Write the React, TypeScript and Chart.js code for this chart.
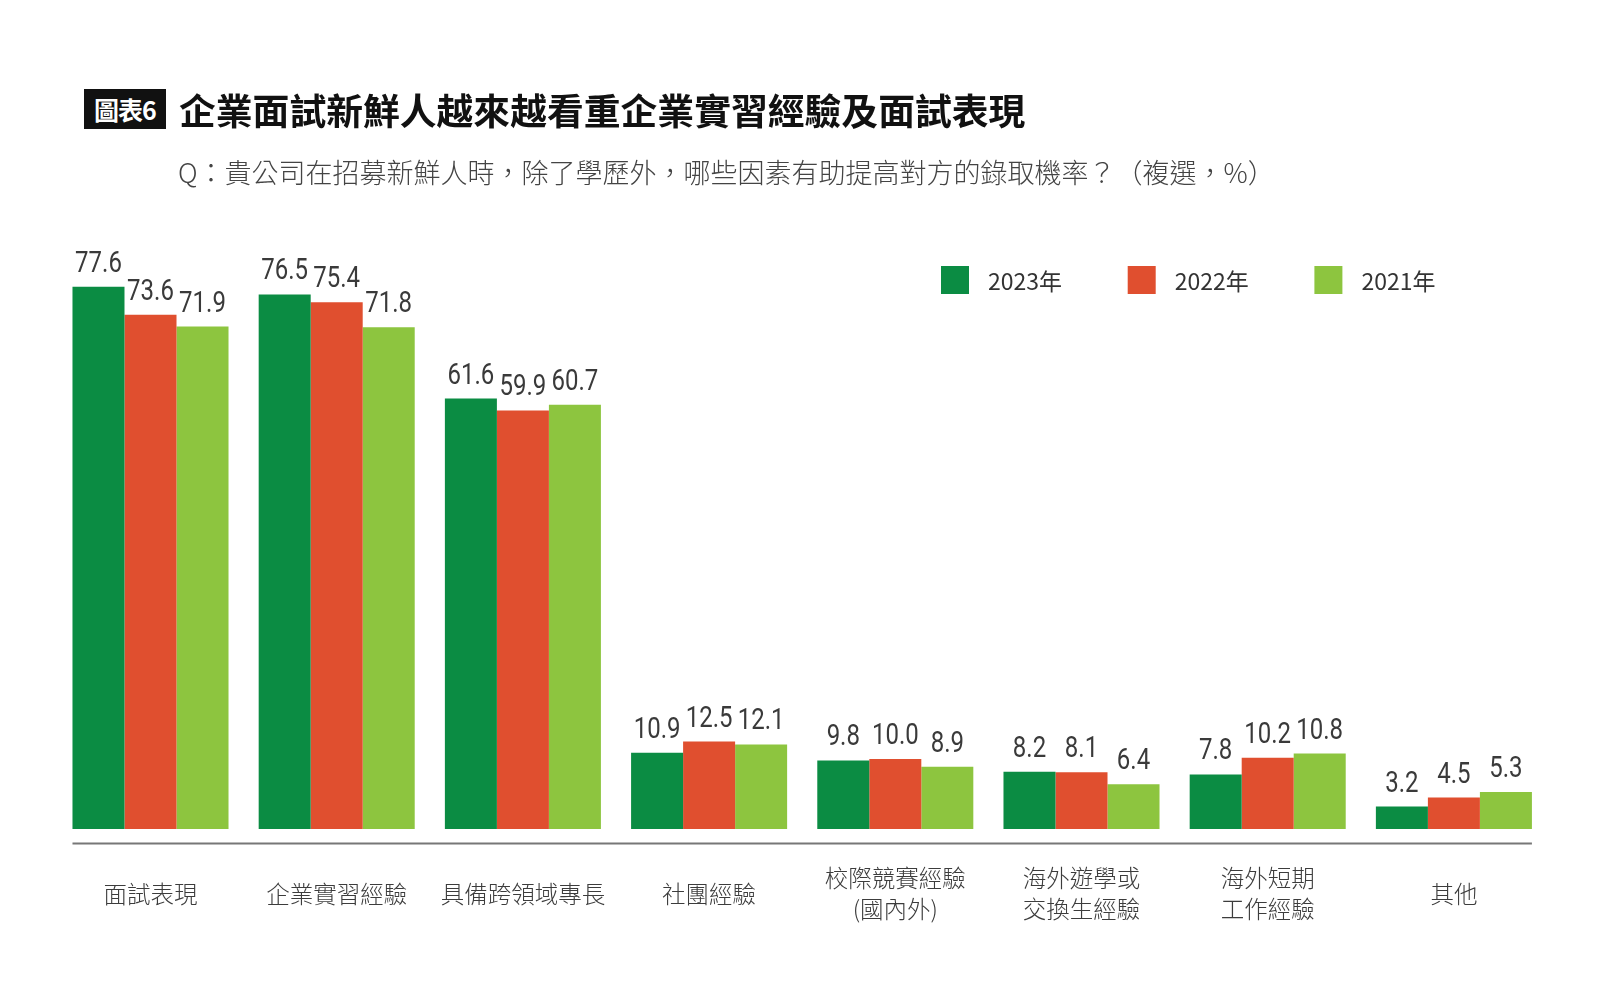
import React, { useEffect, useRef } from "react";
import { Chart, registerables } from "chart.js";

Chart.register(...registerables);

// Categories (multi-line labels are arrays)
const categories: (string | string[])[] = [
  "面試表現",
  "企業實習經驗",
  "具備跨領域專長",
  "社團經驗",
  ["校際競賽經驗", "(國內外)"],
  ["海外遊學或", "交換生經驗"],
  ["海外短期", "工作經驗"],
  "其他",
];

const seriesLabels = ["2023年", "2022年", "2021年"];
const values2023 = [77.6, 76.5, 61.6, 10.9, 9.8, 8.2, 7.8, 3.2];
const values2022 = [73.6, 75.4, 59.9, 12.5, 10.0, 8.1, 10.2, 4.5];
const values2021 = [71.9, 71.8, 60.7, 12.1, 8.9, 6.4, 10.8, 5.3];
const seriesColors = ["#0B8C43", "#E04F2F", "#8DC53F"];

const CJK_FONT = '"Noto Sans CJK TC", "Noto Sans", sans-serif';
const NUM_FONT = 'Roboto, "DejaVu Sans", sans-serif';

const CAT_PCT = 0.838;

// Value labels above each bar, drawn in a narrowed face
const valueLabelPlugin = {
  id: "valueLabels",
  afterDatasetsDraw(chart: any) {
    const { ctx } = chart;
    const squeeze = 0.8;
    chart.data.datasets.forEach((ds: any, i: number) => {
      const meta = chart.getDatasetMeta(i);
      meta.data.forEach((bar: any, j: number) => {
        const v = ds.data[j] as number;
        ctx.save();
        ctx.font = `400 30px ${NUM_FONT}`;
        ctx.fillStyle = "#3a3a3a";
        ctx.textAlign = "center";
        ctx.textBaseline = "alphabetic";
        ctx.translate(bar.x, bar.y - 15);
        ctx.scale(squeeze, 1);
        ctx.fillText(v.toFixed(1), 0, 0);
        ctx.restore();
      });
    });
  },
};

// Horizontal axis rule spanning the bar groups, set slightly below the bar bases
const baselinePlugin = {
  id: "baseline",
  afterDatasetsDraw(chart: any) {
    const { ctx, chartArea } = chart;
    const first = chart.getDatasetMeta(0).data[0];
    const lastMeta = chart.getDatasetMeta(chart.data.datasets.length - 1);
    const last = lastMeta.data[lastMeta.data.length - 1];
    if (!first || !last) return;
    const x0 = first.x - first.width / 2;
    const x1 = last.x + last.width / 2;
    const y = Math.round(chartArea.bottom + 14.5) + 0.5;
    ctx.save();
    ctx.strokeStyle = "#777777";
    ctx.lineWidth = 2;
    ctx.beginPath();
    ctx.moveTo(x0, y);
    ctx.lineTo(x1, y);
    ctx.stroke();
    ctx.restore();
  },
};

// Legend drawn in the upper right of the plot
const legendPlugin = {
  id: "customLegend",
  afterDraw(chart: any) {
    const { ctx } = chart;
    const startX = 941;
    const step = 186.7;
    const top = 266;
    const size = 28;
    ctx.save();
    ctx.font = `23px ${CJK_FONT}`;
    ctx.textBaseline = "middle";
    ctx.textAlign = "left";
    chart.data.datasets.forEach((ds: any, i: number) => {
      const x = startX + i * step;
      ctx.fillStyle = ds.backgroundColor;
      ctx.fillRect(x, top, size, size);
      ctx.fillStyle = "#333333";
      ctx.fillText(ds.label, x + 47, top + size / 2 + 1);
    });
    ctx.restore();
  },
};

export default function App() {
  const canvasRef = useRef<HTMLCanvasElement | null>(null);

  useEffect(() => {
    if (!canvasRef.current) return;
    const chart = new Chart(canvasRef.current, {
      type: "bar",
      data: {
        labels: categories,
        datasets: [values2023, values2022, values2021].map((vals, i) => ({
          label: seriesLabels[i],
          data: vals,
          backgroundColor: seriesColors[i],
          borderWidth: 0,
          barPercentage: 1,
          categoryPercentage: CAT_PCT,
        })),
      },
      options: {
        responsive: false,
        animation: false,
        events: [],
        layout: {
          padding: { left: 57.4, right: 53, top: 270, bottom: 15 },
        },
        plugins: {
          legend: { display: false },
          tooltip: { enabled: false },
          title: { display: false },
        },
        scales: {
          x: {
            grid: { display: false, drawTicks: false },
            border: { display: false },
            ticks: {
              padding: 49.5,
              color: "#3c3c3c",
              crossAlign: "center",
              maxRotation: 0,
              autoSkip: false,
              font: { family: CJK_FONT, size: 23.5, lineHeight: 1.32, weight: "300" },
            },
          },
          y: {
            display: false,
            min: 0,
            max: 80,
            grid: { display: false },
          },
        },
      },
      plugins: [valueLabelPlugin, baselinePlugin, legendPlugin],
    });
    return () => chart.destroy();
  }, []);

  return (
    <div
      style={{
        position: "absolute",
        left: 0,
        top: 0,
        width: 1600,
        height: 1005,
        background: "#ffffff",
        overflow: "hidden",
        fontFamily: CJK_FONT,
      }}
    >
      <canvas
        ref={canvasRef}
        width={1600}
        height={1005}
        style={{ position: "absolute", left: 0, top: 0, width: 1600, height: 1005 }}
      />
      <div
        style={{
          position: "absolute",
          left: 84,
          top: 89,
          width: 82,
          height: 40,
          background: "#111111",
          color: "#ffffff",
          fontSize: 25,
          fontWeight: 700,
          letterSpacing: -1,
          display: "flex",
          alignItems: "center",
          justifyContent: "center",
          lineHeight: "40px",
        }}
      >
        圖表6
      </div>
      <div
        style={{
          position: "absolute",
          left: 179,
          top: 89,
          height: 40,
          lineHeight: "40px",
          fontSize: 36.8,
          fontWeight: 700,
          color: "#111111",
          whiteSpace: "nowrap",
        }}
      >
        企業面試新鮮人越來越看重企業實習經驗及面試表現
      </div>
      <div
        style={{
          position: "absolute",
          left: 178,
          top: 154,
          height: 36,
          lineHeight: "36px",
          fontSize: 27,
          fontWeight: 300,
          color: "#444444",
          whiteSpace: "nowrap",
        }}
      >
        Q：貴公司在招募新鮮人時，除了學歷外，哪些因素有助提高對方的錄取機率？（複選，%）
      </div>
    </div>
  );
}
